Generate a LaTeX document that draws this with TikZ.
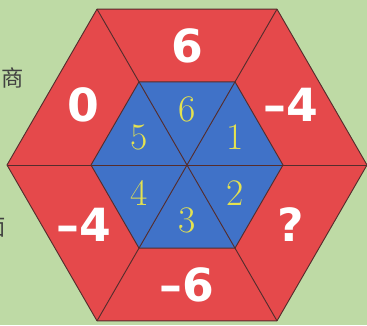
\documentclass[tikz,border=0pt]{standalone}
\usepackage{fontspec}
\usepackage{tikz}
\newfontfamily\numfont{DejaVu Sans}
\newfontfamily\cjk{Noto Sans CJK SC}
\definecolor{bggreen}{RGB}{190,218,165}
\definecolor{ringred}{RGB}{229,73,75}
\definecolor{coreblue}{RGB}{64,114,200}
\definecolor{digityellow}{RGB}{228,226,80}
\definecolor{edgebrown}{RGB}{85,45,45}

\begin{document}
\begin{tikzpicture}[x=0.03cm, y=0.03cm, line join=round]
  \tikzset{
    edge/.style={edgebrown, line width=0.8pt},
    outnum/.style={white, font=\numfont\bfseries\fontsize{39}{44}\selectfont},
    innum/.style={digityellow, font=\fontsize{32}{36}\selectfont},
    sidetext/.style={black!75, font=\cjk\fontsize{19}{22}\selectfont, anchor=east}
  }
  \useasboundingbox (0,0) rectangle (367,325);
  \clip (0,0) rectangle (367,325);
  \fill[bggreen] (0,0) rectangle (367,325);
  % corners of the two hexagons
  \coordinate (c) at (187,160);
  \foreach \a in {0,60,...,300} {
    \path (c) ++(\a:180) coordinate (o\a);
    \path (c) ++(\a:96) coordinate (i\a);
  }
  % red ring and blue core
  \fill[ringred] (o0) -- (o60) -- (o120) -- (o180) -- (o240) -- (o300) -- cycle;
  \fill[coreblue] (i0) -- (i60) -- (i120) -- (i180) -- (i240) -- (i300) -- cycle;
  \draw[edge] (o0) -- (o60) -- (o120) -- (o180) -- (o240) -- (o300) -- cycle;
  \draw[edge] (i0) -- (i60) -- (i120) -- (i180) -- (i240) -- (i300) -- cycle;
  \foreach \a in {0,60,...,300} {
    \draw[edge] (o\a) -- (i\a);
    \draw[edge] (c) -- (i\a);
  }
  % numbers in the ring
  \path (c) ++(90:119.5)  node[outnum] (r6) {6};
  \path (c) ++(30:119.5)  node[outnum] (rm4a) {\textendash4};
  \path (c) ++(-30:119.5) node[outnum] (rq) {?};
  \path (c) ++(-90:119.5) node[outnum] (rm6) {\textendash6};
  \path (c) ++(-150:119.5) node[outnum] (rm4b) {\textendash4};
  \path (c) ++(150:119.5) node[outnum] (r0) {0};
  % numbers in the core
  \path (c) ++(90:55.4)   node[innum] (t6) {6};
  \path (c) ++(30:55.4)   node[innum] (t1) {1};
  \path (c) ++(-30:55.4)  node[innum] (t2) {2};
  \path (c) ++(-90:55.4)  node[innum] (t3) {3};
  \path (c) ++(-150:55.4) node[innum] (t4) {4};
  \path (c) ++(150:55.4)  node[innum] (t5) {5};
  % cut-off text at the left edge
  \node[sidetext] (upper) at (28,247) {的商};
  \node[sidetext] (lower) at (10,97) {面};
\end{tikzpicture}
\end{document}
